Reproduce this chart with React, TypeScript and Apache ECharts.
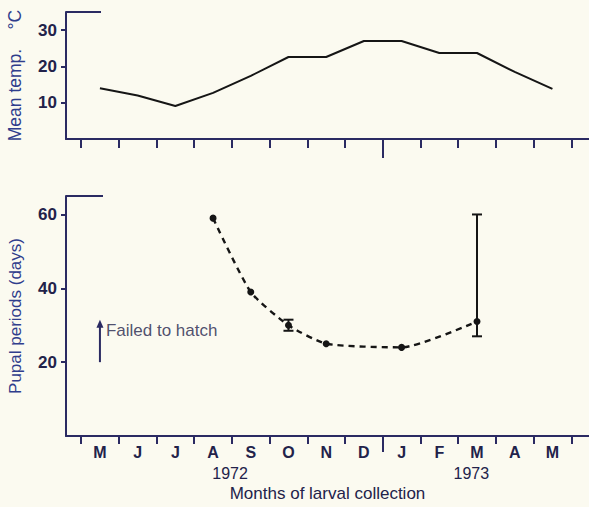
import React, { useEffect, useRef } from "react";
import * as echarts from "echarts";

// ---- data ----
const months = ["M", "J", "J", "A", "S", "O", "N", "D", "J", "F", "M", "A", "M"];
const meanTemp = [14, 12, 9.1, 12.7, 17.4, 22.6, 22.6, 27, 27, 23.7, 23.7, 18.5, 13.8];
const pupalMonth = [3, 4, 5, 6, 8, 10];
const pupalDays = [59, 39, 30, 25, 24, 31];
const errMonth = [5, 10];
const errLow = [28.5, 27];
const errHigh = [31.5, 60];
const tempTicks = [10, 20, 30];
const pupalTicks = [20, 40, 60];
const yearLabels = ["1972", "1973"];
const yearPos = [3.45, 9.85];
const failedMonth = 0;
const failedFrom = 20;
const failedTo = 31.5;
const failedLabelAt = 28.7;
const yearBoundary = 7.5;

const NAVY = "#2a2a62";
const TXT = "#22224a";
const BLUE = "#2f3d8c";
const INK = "#151515";
const FONT = "Liberation Sans, Arial, sans-serif";

const boundaries = months.map((_, i) => i - 0.5).concat([months.length - 0.5]);
const monthIdx = months.map((_, i) => i);

export default function App() {
  const ref = useRef<HTMLDivElement>(null);
  useEffect(() => {
    if (!ref.current) return;
    const chart = echarts.init(ref.current, undefined, { renderer: "svg" });
    const xBase = { type: "value", min: -0.9, max: 12.97, splitLine: { show: false } };
    const yName = {
      nameLocation: "middle",
      nameGap: 42,
      nameTextStyle: { color: BLUE, fontSize: 17, fontFamily: FONT },
    };
    const option: any = {
      animation: false,
      backgroundColor: "#fbfaf0",
      grid: [
        { left: 66, right: 0, top: 12, height: 127, outerBoundsMode: "none", containLabel: false },
        { left: 66, right: 0, top: 196, height: 240, outerBoundsMode: "none", containLabel: false },
      ],
      xAxis: [
        {
          ...xBase,
          gridIndex: 0,
          axisLine: { onZero: false, lineStyle: { color: NAVY, width: 2 } },
          axisTick: { customValues: boundaries, length: 9, lineStyle: { color: NAVY, width: 2 } },
          axisLabel: { show: false },
        },
        {
          ...xBase,
          gridIndex: 0,
          position: "bottom",
          axisLine: { show: false, onZero: false },
          axisTick: { customValues: [yearBoundary], length: 19, lineStyle: { color: NAVY, width: 2 } },
          axisLabel: { show: false },
        },
        {
          ...xBase,
          gridIndex: 1,
          axisLine: { onZero: false, lineStyle: { color: NAVY, width: 2 } },
          axisTick: { customValues: boundaries, length: 8, lineStyle: { color: NAVY, width: 2 } },
          axisLabel: {
            customValues: monthIdx,
            formatter: (v: number) => months[Math.round(v)],
            margin: 8,
            color: TXT,
            fontSize: 16,
            fontWeight: "bold",
            fontFamily: FONT,
          },
          name: "Months of larval collection",
          nameLocation: "middle",
          nameGap: 49,
          nameTextStyle: { color: TXT, fontSize: 17, fontFamily: FONT },
        },
        {
          ...xBase,
          gridIndex: 1,
          position: "bottom",
          axisLine: { show: false, onZero: false },
          axisTick: { customValues: [yearBoundary], length: 16, lineStyle: { color: NAVY, width: 2 } },
          axisLabel: {
            customValues: yearPos,
            formatter: (v: number) => yearLabels[yearPos.indexOf(v)] ?? "",
            margin: 29,
            color: TXT,
            fontSize: 16,
            fontFamily: FONT,
          },
        },
      ],
      yAxis: [
        {
          type: "value",
          gridIndex: 0,
          min: 0,
          max: 35,
          splitLine: { show: false },
          axisLine: { show: true, onZero: false, lineStyle: { color: NAVY, width: 2 } },
          axisTick: { show: true, customValues: tempTicks, length: 5, lineStyle: { color: NAVY, width: 2 } },
          axisLabel: { customValues: tempTicks, margin: 9, color: TXT, fontSize: 17, fontWeight: "bold", fontFamily: FONT },
          name: "Mean temp.    °C",
          ...yName,
          nameTextStyle: { color: BLUE, fontSize: 17.5, fontFamily: FONT },
        },
        {
          type: "value",
          gridIndex: 1,
          min: 0,
          max: 65,
          splitLine: { show: false },
          axisLine: { show: true, onZero: false, lineStyle: { color: NAVY, width: 2 } },
          axisTick: { show: true, customValues: pupalTicks, length: 5, lineStyle: { color: NAVY, width: 2 } },
          axisLabel: { customValues: pupalTicks, margin: 9, color: TXT, fontSize: 17, fontWeight: "bold", fontFamily: FONT },
          name: "Pupal periods (days)",
          ...yName,
        },
      ],
      graphic: [
        { type: "line", shape: { x1: 66, y1: 12, x2: 101, y2: 12 }, style: { stroke: NAVY, lineWidth: 2 } },
        { type: "line", shape: { x1: 66, y1: 196, x2: 103, y2: 196 }, style: { stroke: NAVY, lineWidth: 2 } },
      ],
      series: [
        {
          type: "line",
          xAxisIndex: 0,
          yAxisIndex: 0,
          data: meanTemp.map((v, i) => [i, v]),
          symbol: "none",
          lineStyle: { color: INK, width: 2 },
        },
        {
          type: "line",
          xAxisIndex: 2,
          yAxisIndex: 1,
          data: pupalMonth.map((m, i) => [m, pupalDays[i]]),
          smooth: 0.2,
          symbol: "circle",
          symbolSize: 7,
          itemStyle: { color: INK },
          lineStyle: { color: INK, width: 2.4, type: [6, 5] },
        },
        {
          type: "custom",
          xAxisIndex: 2,
          yAxisIndex: 1,
          data: errMonth.map((m, i) => [m, errLow[i], errHigh[i]]),
          renderItem: (params: any, api: any) => {
            const lo = api.coord([api.value(0), api.value(1)]);
            const hi = api.coord([api.value(0), api.value(2)]);
            const w = 5;
            const st = { stroke: INK, lineWidth: 2 };
            return {
              type: "group",
              children: [
                { type: "line", shape: { x1: lo[0], y1: lo[1], x2: hi[0], y2: hi[1] }, style: st },
                { type: "line", shape: { x1: lo[0] - w, y1: lo[1], x2: lo[0] + w, y2: lo[1] }, style: st },
                { type: "line", shape: { x1: hi[0] - w, y1: hi[1], x2: hi[0] + w, y2: hi[1] }, style: st },
              ],
            };
          },
        },
        {
          type: "custom",
          xAxisIndex: 2,
          yAxisIndex: 1,
          silent: true,
          data: [[failedMonth, failedFrom]],
          renderItem: (params: any, api: any) => {
            const a = api.coord([failedMonth, failedFrom]);
            const b = api.coord([failedMonth, failedTo]);
            return {
              type: "group",
              children: [
                { type: "line", shape: { x1: a[0], y1: a[1], x2: b[0], y2: b[1] + 4 }, style: { stroke: NAVY, lineWidth: 2 } },
                {
                  type: "polygon",
                  shape: { points: [[b[0], b[1]], [b[0] - 3.5, b[1] + 8], [b[0] + 3.5, b[1] + 8]] },
                  style: { fill: NAVY },
                },
              ],
            };
          },
        },
        {
          type: "scatter",
          xAxisIndex: 2,
          yAxisIndex: 1,
          data: [[failedMonth, failedLabelAt]],
          symbolSize: 0,
          silent: true,
          label: {
            show: true,
            position: "right",
            distance: 6,
            formatter: "Failed to hatch",
            color: TXT,
            fontSize: 17,
            fontFamily: FONT,
          },
        },
      ],
    };
    chart.setOption(option);
    return () => chart.dispose();
  }, []);
  return (
    <div
      ref={ref}
      style={{ position: "fixed", left: 0, top: 0, width: 589, height: 507 }}
    />
  );
}
